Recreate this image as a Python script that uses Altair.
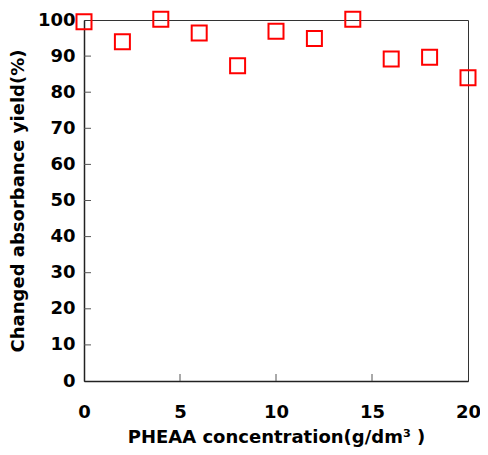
import altair as alt
import pandas as pd

conc = [0, 2, 4, 6, 8, 10, 12, 14, 16, 18, 20]
yield_pct = [99.5, 94.0, 100.2, 96.4, 87.3, 96.9, 94.9, 100.2, 89.2, 89.7, 84.0]
x_ticks = [0, 5, 10, 15, 20]
y_ticks = [0, 10, 20, 30, 40, 50, 60, 70, 80, 90, 100]

df = pd.DataFrame({"x": conc, "y": yield_pct})
FONT = "DejaVu Sans"

xs = alt.Scale(domain=[0, 20], nice=False, zero=False)
ys = alt.Scale(domain=[0, 100], nice=False)

xaxis = alt.Axis(values=x_ticks, title="PHEAA concentration(g/dm³ )",
                 ticks=False, labelPadding=22, titlePadding=7,
                 grid=False, labelOverlap=False, labelFlush=False)
yaxis = alt.Axis(values=y_ticks, title="Changed absorbance yield(%)",
                 ticks=False, labelPadding=9, titlePadding=10,
                 grid=False, labelOverlap=False, labelFlush=False)

points = alt.Chart(df).mark_point(shape="square", filled=False, color="#ff0000",
                                  size=225, strokeWidth=2, opacity=1).encode(
    x=alt.X("x:Q", scale=xs, axis=xaxis),
    y=alt.Y("y:Q", scale=ys, axis=yaxis),
)

ytick_df = pd.DataFrame({"v": y_ticks[1:-1]})
xtick_df = pd.DataFrame({"v": x_ticks[1:-1]})

yt = alt.Chart(ytick_df).mark_rule(color="#555", strokeWidth=1).encode(
    y=alt.Y("v:Q", scale=ys, axis=yaxis), x=alt.value(0), x2=alt.value(7))
xt = alt.Chart(xtick_df).mark_rule(color="#555", strokeWidth=1).encode(
    x=alt.X("v:Q", scale=xs, axis=xaxis), y=alt.value(361), y2=alt.value(354))

chart = alt.layer(points, yt, xt).properties(
    width=384, height=361,
    autosize=alt.AutoSizeParams(type="none"),
    padding={"left": 76, "top": 12, "right": 12, "bottom": 66},
).configure_view(stroke="#333", strokeWidth=1).configure_axis(
    domainColor="#222", domainWidth=1.5,
    labelFont=FONT, labelFontWeight="bold", labelFontSize=18, labelColor="#000",
    titleFont=FONT, titleFontWeight="bold", titleFontSize=18, titleColor="#000",
)

chart.save("out.html", embed_options={"renderer": "svg", "actions": False})
